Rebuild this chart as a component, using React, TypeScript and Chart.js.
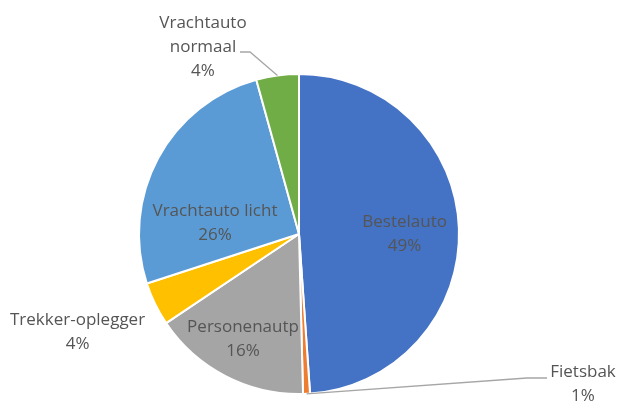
import React, { useEffect, useRef } from "react";
import { Chart, registerables } from "chart.js";

Chart.register(...registerables);

const categories = [
  "Bestelauto",
  "Fietsbak",
  "Personenautp",
  "Trekker-oplegger",
  "Vrachtauto licht",
  "Vrachtauto normaal",
];
const values = [48.9, 0.7, 16.0, 4.4, 25.7, 4.3];
const colors = ["#4472C4", "#ED7D31", "#A5A5A5", "#FFC000", "#5B9BD5", "#70AD47"];

// label layout, in units of pie radius relative to the pie centre
const labelLines = [
  ["Bestelauto"],
  ["Fietsbak"],
  ["Personenautp"],
  ["Trekker-oplegger"],
  ["Vrachtauto licht"],
  ["Vrachtauto", "normaal"],
];
const labelPos = [
  [0.66, -0.006],
  [1.775, 0.931],
  [-0.35, 0.653],
  [-1.384, 0.609],
  [-0.525, -0.075],
  [-0.6, -1.172],
];
// leader lines: [elbow, end] in radius units, or null
const leaders: (number[][] | null)[] = [
  null,
  [
    [1.425, 0.9],
    [1.55, 0.9],
  ],
  null,
  null,
  null,
  [
    [-0.306, -1.1375],
    [-0.369, -1.1375],
  ],
];

const FONT = '17px "Open Sans"';
const LINE_H = 24;
const TEXT_COLOR = "#555555";

const labelPlugin = {
  id: "pieLabels",
  afterDatasetsDraw(chart: any) {
    const ctx = chart.ctx;
    const meta = chart.getDatasetMeta(0);
    const total = values.reduce((a, b) => a + b, 0);
    ctx.save();
    meta.data.forEach((arc: any, i: number) => {
      const cx = arc.x;
      const cy = arc.y;
      const r = arc.outerRadius;
      const lead = leaders[i];
      if (lead) {
        const mid = (arc.startAngle + arc.endAngle) / 2;
        ctx.beginPath();
        ctx.strokeStyle = "#A6A6A6";
        ctx.lineWidth = 1.3;
        ctx.moveTo(cx + Math.cos(mid) * r, cy + Math.sin(mid) * r);
        lead.forEach((p) => ctx.lineTo(cx + p[0] * r, cy + p[1] * r));
        ctx.stroke();
      }
      const pct = Math.round((values[i] / total) * 100) + "%";
      const lines = [...labelLines[i], pct];
      const lx = cx + labelPos[i][0] * r;
      const ly = cy + labelPos[i][1] * r;
      ctx.font = FONT;
      ctx.fillStyle = TEXT_COLOR;
      ctx.textAlign = "center";
      ctx.textBaseline = "middle";
      const startY = ly - ((lines.length - 1) * LINE_H) / 2;
      lines.forEach((t, k) => ctx.fillText(t, lx, startY + k * LINE_H + 1));
    });
    ctx.restore();
  },
};

export default function App() {
  const ref = useRef<HTMLCanvasElement>(null);
  useEffect(() => {
    document.body.style.margin = "0";
    const chart = new Chart(ref.current!, {
      type: "pie",
      data: {
        labels: categories,
        datasets: [
          {
            data: values,
            backgroundColor: colors,
            borderColor: "#FFFFFF",
            borderWidth: 2,
          },
        ],
      },
      options: {
        responsive: false,
        animation: false,
        layout: { padding: { left: 0, right: 20, top: 73, bottom: 7 } },
        plugins: {
          legend: { display: false },
          tooltip: { enabled: false },
        },
      },
      plugins: [labelPlugin],
    });
    return () => chart.destroy();
  }, []);
  return (
    <div style={{ width: 618, height: 402, background: "#fff" }}>
      <canvas ref={ref} width={618} height={402} />
    </div>
  );
}
